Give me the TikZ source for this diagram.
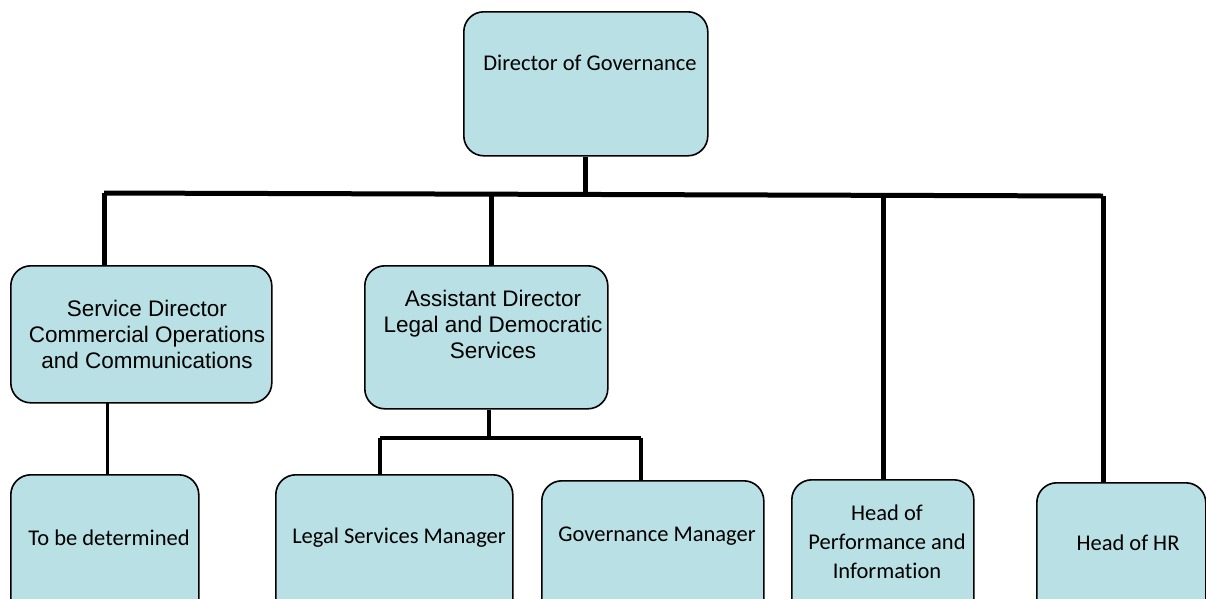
\documentclass[tikz,border=0pt]{standalone}
\usepackage{fontspec}
\setmainfont{Carlito}[Ligatures={NoCommon}]
\newfontfamily\arialfont{Liberation Sans}
\usetikzlibrary{calc}
\definecolor{postblue}{RGB}{185,224,228}
\tikzset{
  post/.style={draw, fill=postblue, line width=1.6pt, rounded corners=20pt,
    anchor=north west, inner sep=0pt},
  posttext/.style={align=center, inner sep=0pt, font=\fontsize{22.5}{29}\selectfont},
  arialtext/.style={align=center, inner sep=0pt, font=\arialfont\fontsize{22.5}{26}\selectfont},
  mainline/.style={line width=5pt},
  subline/.style={line width=3.8pt}
}
\begin{document}
\begin{tikzpicture}[x=1pt,y=-1pt]
		\useasboundingbox (0,0) rectangle (1206,598);
		\clip (0,0) rectangle (1206,598);
		% boxes
		\node[post, minimum width=244pt, minimum height=144pt] (gov) at (463,11) {};
		\node[post, minimum width=261pt, minimum height=137pt] (sd) at (10,265) {};
		\node[post, minimum width=243pt, minimum height=143pt] (ad) at (364,265) {};
		\node[post, minimum width=188pt, minimum height=160pt] (tbd) at (10,474) {};
		\node[post, minimum width=237pt, minimum height=160pt] (lsm) at (275,474) {};
		\node[post, minimum width=222pt, minimum height=160pt] (gm) at (541,480) {};
		\node[post, minimum width=182pt, minimum height=160pt] (hpi) at (791,479) {};
		\node[post, minimum width=169pt, minimum height=160pt] (hr) at (1036,482) {};

		% texts
		\node[posttext] (gov-t) at (590,63) {Director of Governance};
		\node[arialtext] (sd-t) at (147,334) {Service Director\\Commercial Operations\\and Communications};
		\node[arialtext] (ad-t) at (493,324) {Assistant Director\\Legal and Democratic\\Services};
		\node[posttext] (tbd-t) at (109,538) {To be determined};
		\node[posttext] (lsm-t) at (399,538) {Legal Services Manager};
		\node[posttext] (gm-t) at (657,536) {Governance Manager};
		\node[posttext] (hpi-t) at (887,542) {Head of\\Performance and\\Information};
		\node[posttext] (hr-t) at (1128,543) {Head of HR};

		% main bus
		\coordinate (busL) at (104,193);
		\coordinate (busA) at (491,194);
		\coordinate (busP) at (883,195);
		\coordinate (busR) at (1103,196);
		\draw[mainline] (gov.south) -- (gov.south |- busA);
		\draw[mainline] (busL) -- (busR);
		\draw[mainline] (busL) -- (busL |- sd.north);
		\draw[mainline] (busA) -- (busA |- ad.north);
		\draw[mainline] (busP) -- (busP |- hpi.north);
		\draw[mainline] (busR) -- (busR |- hr.north);

		% under service director
		\coordinate (sdc) at (107,402);
		\draw[line width=3pt] (sdc) -- (sdc |- tbd.north);

		% under assistant director
		\coordinate (subC) at (489,438);
		\coordinate (subL) at (380,438);
		\coordinate (subR) at (641,438);
		\draw[subline] (subC |- ad.south) -- (subC);
		\draw[subline] (subL) -- (subR);
		\draw[subline] (subL) -- (subL |- lsm.north);
		\draw[subline] (subR) -- (subR |- gm.north);
\end{tikzpicture}
\end{document}
